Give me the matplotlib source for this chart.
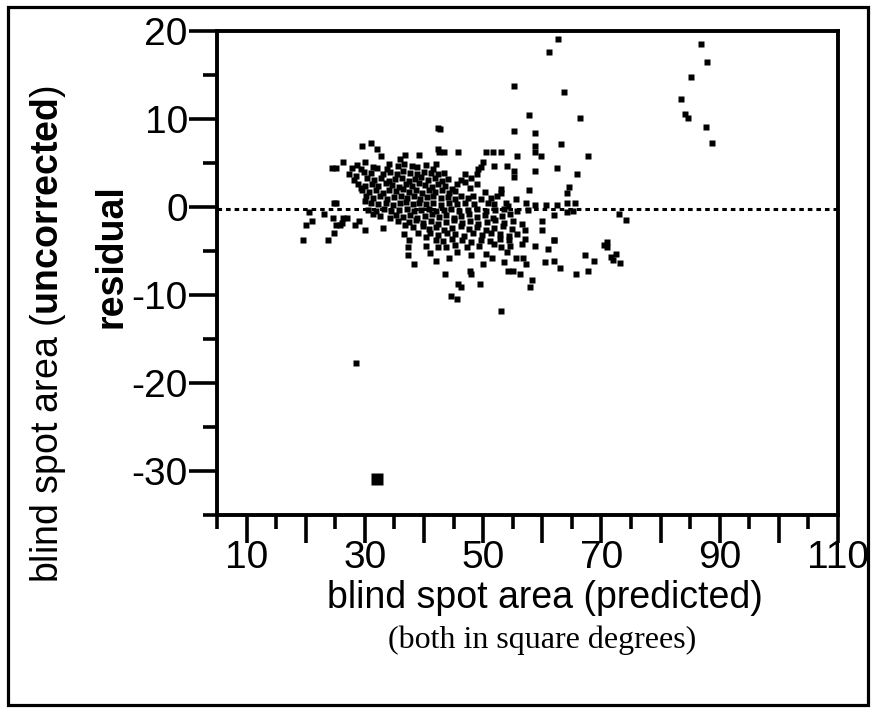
import matplotlib
matplotlib.use("Agg")
import matplotlib.pyplot as plt
from matplotlib.patches import Rectangle
import numpy as np

plt.rcParams['font.family'] = ['Liberation Sans', 'DejaVu Sans']
plt.rcParams['axes.unicode_minus'] = False
plt.rcParams['mathtext.fontset'] = 'custom'
plt.rcParams['mathtext.rm'] = 'Liberation Sans'
plt.rcParams['mathtext.bf'] = 'Liberation Sans:bold'

# (predicted area, residual) pairs, square degrees
upper_pts = [
    (62.6, 19.1), (61.1, 17.6), (55.2, 13.8), (63.6, 13.1), (57.8, 10.5), (66.3, 10.1),
    (42.3, 9.0), (42.7, 8.9), (55.2, 8.6), (58.8, 8.4), (63.1, 7.2), (31.0, 7.3),
    (29.5, 6.9), (32.1, 6.6), (32.7, 5.8), (42.3, 6.6), (58.8, 6.9), (58.8, 6.3),
    (36.8, 5.9), (39.1, 5.9), (35.9, 5.5), (42.6, 6.2), (43.3, 6.2), (45.8, 6.2),
    (50.5, 6.2), (51.7, 6.2), (53.1, 6.2), (55.7, 5.8), (59.8, 5.8), (67.7, 5.8),
    (26.3, 5.1), (30.0, 5.1), (24.4, 4.4), (25.2, 4.4), (27.8, 4.4), (29.4, 4.3),
    (32.0, 4.4), (33.7, 4.3), (37.9, 4.7), (41.5, 4.3), (50.0, 5.1), (49.6, 4.5),
    (49.1, 4.3), (51.9, 4.7), (54.1, 4.7), (55.2, 4.1), (55.2, 3.4), (58.8, 4.1),
    (62.5, 4.4), (65.8, 3.7), (46.9, 3.7), (47.9, 3.3), (48.9, 3.7), (48.9, 2.6),
    (47.7, 2.2), (45.6, 2.6), (53.1, 2.0), (53.1, 1.6), (57.8, 1.9), (64.6, 2.3),
    (64.1, 1.6), (46.2, 1.25), (48.3, 1.25), (49.6, 0.9), (51.4, 1.0), (55.6, 0.9),
    (57.3, 0.5), (58.8, 0.2), (60.7, 0.2), (62.5, 0.2), (64.1, 0.5), (65.6, 0.5),
    (50.8, 0.5), (51.9, 0.3), (53.8, 0.5), (54.2, 0.1), (24.7, 0.5), (25.2, 0.5),
    (30.0, 0.7), (29.3, 2.2), (28.5, 3.5),
]

core_upper = [
    (28.6, 4.8), (31.4, 4.6), (34.1, 4.9), (35.6, 4.7), (36.6, 4.9), (38.8, 4.5), (40.4, 4.8), (42.1, 4.9),
    (27.3, 3.8), (29.9, 4.0), (31.1, 3.9), (33.0, 3.7), (34.3, 4.0), (35.4, 3.8), (36.5, 4.1), (37.6, 3.9),
    (38.9, 3.8), (40.0, 4.0), (41.2, 3.9), (42.3, 3.7), (43.4, 3.9),
    (28.2, 3.1), (30.4, 3.3), (31.6, 3.1), (32.8, 3.3), (34.0, 3.0), (35.1, 3.2), (36.3, 3.3), (37.4, 3.0),
    (38.4, 3.2), (39.5, 3.4), (40.6, 3.1), (41.8, 3.3), (43.0, 3.0), (44.1, 3.2), (46.2, 3.1),
    (28.8, 2.6), (30.0, 2.4), (31.2, 2.6), (32.3, 2.4), (33.5, 2.7), (34.6, 2.5), (35.8, 2.3), (36.9, 2.6),
    (38.0, 2.4), (39.1, 2.7), (40.2, 2.5), (41.3, 2.3), (42.4, 2.6), (43.6, 2.4), (44.8, 2.1), (47.0, 2.8),
    (29.6, 1.9), (30.7, 1.7), (31.8, 1.9), (33.0, 1.6), (34.1, 1.9), (35.2, 1.8), (36.4, 2.0), (37.5, 1.7),
    (38.6, 1.9), (39.7, 1.6), (40.8, 1.9), (41.9, 1.7), (43.0, 1.9), (44.2, 1.6), (45.3, 1.8), (50.3, 1.7),
    (30.2, 1.2), (31.4, 1.0), (32.6, 1.2), (33.8, 0.9), (35.0, 1.1), (36.1, 1.3), (37.2, 1.0), (38.3, 1.2),
    (39.4, 0.9), (40.5, 1.1), (41.6, 1.3), (42.8, 1.0), (44.0, 1.1), (45.2, 0.9), (47.4, 1.0), (52.4, 1.2),
    (31.0, 0.5), (32.3, 0.3), (33.5, 0.5), (34.7, 0.2), (35.9, 0.4), (37.0, 0.6), (38.1, 0.3), (39.2, 0.5),
    (40.4, 0.3), (41.6, 0.5), (42.8, 0.2), (44.2, 0.4), (45.6, 0.3), (47.0, 0.5), (48.5, 0.3),
    (30.6, -0.3), (31.9, -0.4), (33.2, -0.2), (34.5, -0.4), (35.8, -0.3), (37.1, -0.2), (38.3, -0.4),
    (39.5, -0.3), (40.8, -0.2), (42.0, -0.4), (43.3, -0.3), (44.6, -0.2), (46.0, -0.4), (47.5, -0.3),
    (49.0, -0.2), (50.5, -0.4), (52.0, -0.3), (53.6, -0.2), (55.8, -0.4), (57.5, -0.3),
]

core_lower = [
    (31.4, -0.8), (32.5, -1.0), (34.2, -1.2), (35.3, -0.9), (36.5, -1.1), (37.7, -0.9), (38.9, -1.2),
    (40.1, -1.0), (41.3, -0.8), (42.5, -1.1), (43.8, -0.9), (45.0, -1.2), (46.3, -1.0), (47.6, -0.8),
    (49.0, -1.1), (50.3, -0.9), (51.7, -1.2), (53.2, -1.0), (54.6, -0.8), (62.0, -0.9), (64.1, -0.6),
    (65.2, -0.45),
    (35.6, -1.6), (36.8, -2.0), (37.4, -1.7), (38.6, -1.5), (39.9, -1.8), (41.1, -1.6), (42.4, -1.9),
    (43.7, -1.7), (45.0, -1.5), (46.4, -1.8), (47.8, -1.6), (49.2, -1.9), (50.6, -1.7), (52.0, -1.5),
    (53.5, -1.8), (55.0, -1.6), (56.6, -1.9), (60.0, -1.6),
    (33.0, -2.4), (39.0, -2.9), (38.2, -2.3), (39.8, -2.2), (40.8, -2.5), (42.1, -2.3), (43.4, -2.6),
    (44.8, -2.4), (46.2, -2.2), (47.6, -2.5), (49.0, -2.3), (50.4, -2.6), (51.9, -2.4), (53.4, -2.2),
    (54.9, -2.5), (57.0, -2.65), (60.0, -2.65),
    (36.6, -3.1), (40.4, -3.4), (41.0, -3.0), (42.4, -3.2), (43.9, -2.9), (45.3, -3.1), (46.8, -3.3),
    (48.3, -3.0), (49.8, -3.2), (51.3, -2.9), (52.8, -3.1), (54.4, -3.3), (55.8, -3.1),
    (37.5, -3.8), (42.1, -3.7), (43.2, -3.9), (44.8, -3.6), (46.4, -3.8), (48.0, -4.0), (49.6, -3.7),
    (51.2, -3.9), (52.8, -3.6), (54.4, -3.8), (57.0, -3.6), (62.0, -3.8), (61.9, -3.7),
    (40.4, -4.4), (42.4, -4.6), (43.8, -4.5), (45.2, -4.3), (47.3, -4.6), (49.3, -4.4), (51.9, -4.2),
    (53.0, -4.6), (54.5, -4.4), (56.5, -4.2), (58.8, -4.4), (61.0, -4.8), (37.3, -4.6),
    (41.0, -5.2), (44.2, -5.8), (45.5, -5.1), (47.9, -5.5), (50.5, -5.3), (51.5, -5.8), (54.0, -5.1),
    (55.6, -5.8), (56.7, -5.8), (37.3, -5.45), (67.3, -5.5),
    (42.0, -6.1), (50.0, -6.5), (53.5, -6.2), (57.3, -6.5), (60.5, -6.2), (62.0, -6.1), (63.0, -6.9),
    (68.8, -6.1), (38.3, -6.5),
]

lower_pts = [
    (43.5, -7.6), (47.7, -7.3), (47.9, -7.6), (49.4, -8.7), (45.8, -8.7), (46.2, -9.1), (44.6, -10.1),
    (45.6, -10.4), (53.1, -11.8), (54.2, -7.3), (55.1, -7.3), (56.3, -7.6), (58.3, -8.3), (57.9, -9.1),
    (65.7, -7.6), (67.8, -7.3),
]

left_pts = [
    (20.5, -0.6), (23.1, -0.8), (20.0, -2.0), (21.0, -1.6), (19.5, -3.75), (23.7, -3.75), (24.7, -3.0),
    (25.2, -2.0), (25.8, -2.0), (26.3, -1.2), (27.0, -1.2), (28.4, -2.0), (29.0, -1.6), (30.0, -2.65),
    (24.6, -1.2), (26.1, -1.8),
]

right_pts = [
    (86.8, 18.5), (87.8, 16.5), (85.1, 14.8), (83.5, 12.3), (84.1, 10.6), (84.6, 10.1), (87.7, 9.1),
    (88.7, 7.3), (73.0, -0.8), (74.1, -1.5), (70.9, -4.0), (70.9, -4.5), (70.5, -4.3), (71.6, -5.7),
    (72.4, -5.3), (71.9, -6.0), (73.1, -6.4),
]

outlier_pts = [(28.5, -17.7)]
big_pt = [(32.0, -30.9)]

mean_resid = -0.25

pts = np.array(upper_pts + core_upper + core_lower + lower_pts + left_pts + right_pts + outlier_pts)
big = np.array(big_pt)

fig = plt.figure(figsize=(8.76, 7.09), dpi=100)
ax = fig.add_axes([217 / 876, 1 - 515 / 709, (838 - 217) / 876, (515 - 31) / 709])

ax.axhline(mean_resid, color='black', lw=2.2, ls=(0, (1.5, 1.3)), dash_capstyle='butt', zorder=1)
ax.plot(pts[:, 0], pts[:, 1], 's', ms=4.4, color='black', mec='none', zorder=2)
ax.plot(big[:, 0], big[:, 1], 's', ms=8.6, color='black', mec='none', zorder=2)

ax.set_xlim(5, 110)
ax.set_ylim(-35, 20)

xt = np.arange(10, 111, 10)
ax.set_xticks(xt)
ax.set_xticklabels([str(v) if v % 20 == 10 else '' for v in xt])
ax.set_xticks(np.arange(5, 110, 10), minor=True)
yt = np.arange(-30, 21, 10)
ax.set_yticks(yt)
ax.set_yticklabels([str(v) for v in yt])
ax.set_yticks(np.arange(-35, 20, 10), minor=True)

ax.tick_params(which='major', direction='out', length=20, width=2.6, labelsize=28, color='black')
ax.tick_params(which='minor', direction='out', length=10, width=2.6)
ax.tick_params(axis='y', which='major', pad=1)
ax.tick_params(axis='x', which='major', pad=-2)
for s in ax.spines.values():
    s.set_linewidth(2.8)

fig.text(48 / 876, 1 - 334 / 709, 'blind spot area ($\\mathbf{uncorrected}$)', rotation=90,
         ha='center', va='center', fontsize=27)
fig.text(112 / 876, 1 - 256 / 709, 'residual', rotation=90, ha='center', va='center',
         fontsize=27, fontweight='bold')
fig.text(545 / 876, 1 - 598 / 709, 'blind spot area (predicted)', ha='center', va='center', fontsize=27)
fig.text(542 / 876, 1 - 640 / 709, '(both in square degrees)', ha='center', va='center',
         fontsize=23, family='Liberation Serif')

fig.patches.append(Rectangle((0.0095, 0.006), 0.981, 0.984, transform=fig.transFigure,
                             fill=False, lw=2.3, ec='black'))

fig.savefig('out.png', dpi=100)
